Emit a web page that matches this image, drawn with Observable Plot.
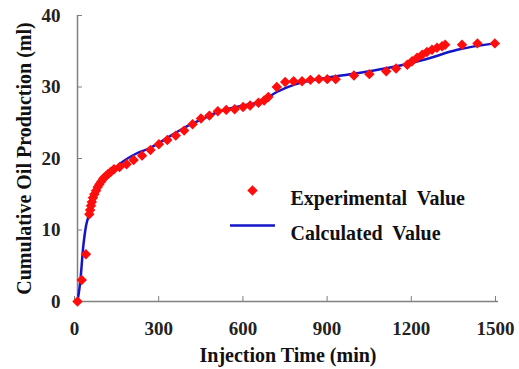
<!DOCTYPE html>
<html>
<head>
<meta charset="utf-8">
<script src="https://cdn.jsdelivr.net/npm/d3@7"></script>
<script src="https://cdn.jsdelivr.net/npm/@observablehq/plot@0.6"></script>
<style>
  html, body { margin: 0; padding: 0; background: #fff; }
  #chart svg { display: block; }
</style>
</head>
<body>
<div id="chart"></div>
<script>
// Experimental values: injection time (min) and cumulative oil production (ml)
const expTime = [0, 15, 30, 42, 45, 48, 51, 55, 60, 66, 72, 78, 85, 92, 100, 108, 118, 130, 150, 175, 200, 230, 260, 290, 320, 350, 380, 410, 440, 470, 500, 530, 560, 590, 615, 645, 665, 680, 710, 740, 770, 800, 830, 860, 890, 920, 985, 1040, 1100, 1135, 1175, 1192, 1210, 1228, 1245, 1263, 1281, 1299, 1310, 1370, 1425, 1487];
const expOil  = [0, 3.0, 6.6, 12.2, 12.8, 13.4, 13.9, 14.5, 15.0, 15.5, 16.0, 16.4, 16.8, 17.2, 17.5, 17.8, 18.1, 18.5, 18.8, 19.2, 19.8, 20.4, 21.2, 22.0, 22.6, 23.2, 23.9, 24.8, 25.6, 26.0, 26.6, 26.8, 26.9, 27.2, 27.4, 27.8, 28.1, 28.6, 30.0, 30.7, 30.8, 30.8, 31.0, 31.1, 31.1, 31.1, 31.6, 31.8, 32.2, 32.6, 33.1, 33.6, 34.1, 34.5, 34.9, 35.2, 35.5, 35.7, 35.9, 35.9, 36.1, 36.1];

// Calculated values
const calcTime = [0, 10, 20, 30, 40, 60, 90, 140, 210, 260, 300, 380, 450, 500, 600, 650, 710, 770, 890, 940, 1056, 1150, 1234, 1353, 1485];
const calcOil  = [0, 2.8, 7.5, 10.5, 12.0, 14.2, 16.7, 18.9, 20.7, 21.5, 22.4, 24.3, 25.6, 26.5, 27.5, 27.9, 29.3, 30.3, 31.3, 31.6, 32.3, 33.0, 33.8, 35.2, 36.1];

const xTicks = [0, 300, 600, 900, 1200, 1500];
const yTicks = [0, 10, 20, 30, 40];
const xLabel = "Injection Time (min)";
const yLabel = "Cumulative Oil Production (ml)";
const legendLabels = ["Experimental  Value", "Calculated  Value"];

const expData = expTime.map((t, i) => ({t, v: expOil[i]}));
const calcData = calcTime.map((t, i) => ({t, v: calcOil[i]}));

const RED = "#ff0d0d";
const BLUE = "#1515c8";
const AXIS = "#808080";
const FONT = "'Liberation Serif', 'Times New Roman', serif";

const hLine = {
  draw(ctx, size) {
    const w = Math.sqrt(size);
    ctx.moveTo(-w, 0);
    ctx.lineTo(w, 0);
  }
};

const chart = Plot.plot({
  width: 519,
  height: 369,
  marginLeft: 77,
  marginRight: 21,
  marginTop: 15,
  marginBottom: 68,
  style: {fontFamily: FONT, fontWeight: "bold", background: "#fff", color: "#222"},
  x: {domain: [0, 1500]},
  y: {domain: [0, 40]},
  marks: [
    Plot.ruleY([0], {stroke: AXIS, strokeWidth: 1.5}),
    Plot.ruleX([0], {stroke: AXIS, strokeWidth: 1.5}),
    Plot.axisX({ticks: xTicks, tickFormat: d3.format("d"), tickSize: -5, tickPadding: 25, stroke: AXIS, fontSize: 19, fontFamily: FONT, fontWeight: "bold", fill: "#222", label: null, dx: -3}),
    Plot.axisY({ticks: yTicks, tickFormat: d3.format("d"), tickSize: -5, tickPadding: 22, stroke: AXIS, fontSize: 19, fontFamily: FONT, fontWeight: "bold", fill: "#222", label: null}),
    Plot.text([xLabel], {frameAnchor: "bottom", dy: 60, textAnchor: "middle", fontSize: 20, fontFamily: FONT, fontWeight: "bold", fill: "#111"}),
    Plot.text([yLabel], {frameAnchor: "left", rotate: -90, dx: -53, textAnchor: "middle", fontSize: 20, fontFamily: FONT, fontWeight: "bold", fill: "#111"}),
    Plot.line(calcData, {x: "t", y: "v", stroke: BLUE, strokeWidth: 2.5, curve: "monotone-x"}),
    Plot.dot(expData, {x: "t", y: "v", symbol: "diamond2", fill: RED, stroke: "none", r: 4.7}),
    // Legend
    Plot.dot([legendLabels[0]], {frameAnchor: "top-left", dx: 175, dy: 175, symbol: "diamond2", fill: RED, stroke: "none", r: 4.7}),
    Plot.text([legendLabels[0]], {frameAnchor: "top-left", dx: 213, dy: 175, textAnchor: "start", fontSize: 20, fontFamily: FONT, fontWeight: "bold", fill: "#111"}),
    Plot.dot([legendLabels[1]], {frameAnchor: "top-left", dx: 175, dy: 210, symbol: hLine, stroke: BLUE, strokeWidth: 2.5, fill: "none", r: 12.7}),
    Plot.text([legendLabels[1]], {frameAnchor: "top-left", dx: 213, dy: 210, textAnchor: "start", fontSize: 20, fontFamily: FONT, fontWeight: "bold", fill: "#111"})
  ]
});
chart.querySelectorAll("text").forEach(t => t.setAttribute("xml:space", "preserve"));
chart.style.whiteSpace = "pre";
document.getElementById("chart").appendChild(chart);
</script>
</body>
</html>
